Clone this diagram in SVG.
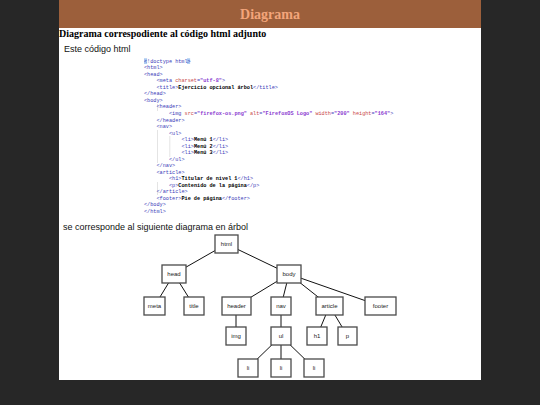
<svg xmlns="http://www.w3.org/2000/svg" width="540" height="405" viewBox="0 0 540 405">
<style>
.code{font-family:"Liberation Mono","Courier New",monospace;font-size:5.2px;}
.t{fill:#3a3ab8}
.a{fill:#c84848}
.v{fill:#8a3ad0;font-weight:bold}
.x{fill:#000;font-weight:bold}
.box{fill:#fff;stroke:#4a4a4a;stroke-width:1.3}
.lbl{font-family:"Liberation Sans",Arial,sans-serif;font-size:6px;fill:#222;text-anchor:middle}
.edge{stroke:#111;stroke-width:1}
.guide{stroke:#c8c8c8;stroke-width:0.5}
.body{font-family:"Liberation Sans",Arial,sans-serif;font-size:9px;fill:#111}
</style>
<rect x="0" y="0" width="540" height="405" fill="#272727"/>
<rect x="59" y="0" width="422" height="380" fill="#ffffff"/>
<rect x="59" y="0" width="422" height="28" fill="#9c5f3b"/>
<text x="270" y="19" text-anchor="middle" font-family="Liberation Serif,'Times New Roman',serif" font-weight="bold" font-size="14" fill="#f3a57a">Diagrama</text>
<text x="59" y="37" font-family="Liberation Serif,'Times New Roman',serif" font-weight="bold" font-size="10" fill="#000">Diagrama correspodiente al código html adjunto</text>
<text class="body" x="64" y="52">Este código html</text>

<g id="code">
<rect x="144" y="58.3" width="3.1" height="5.6" fill="#a8c8f0"/>
<rect x="187" y="58.3" width="3.1" height="5.6" fill="#a8c8f0"/>
<g class="guide">
<line x1="157.5" y1="104" x2="157.5" y2="111"/>
<line x1="157.5" y1="130" x2="157.5" y2="163"/>
<line x1="169.8" y1="136" x2="169.8" y2="157"/>
<line x1="157.5" y1="182" x2="157.5" y2="195"/>
</g>
<text class="code" x="144" y="62.8"><tspan class="t">&lt;!doctype html&gt;</tspan></text>
<text class="code" x="144" y="69.3"><tspan class="t">&lt;html&gt;</tspan></text>
<text class="code" x="144" y="75.8"><tspan class="t">&lt;head&gt;</tspan></text>
<text class="code" x="156.5" y="82.4"><tspan class="t">&lt;meta </tspan><tspan class="a">charset</tspan><tspan class="t">=</tspan><tspan class="v">"utf-8"</tspan><tspan class="t">&gt;</tspan></text>
<text class="code" x="156.5" y="88.9"><tspan class="t">&lt;title&gt;</tspan><tspan class="x">Ejercicio opcional árbol</tspan><tspan class="t">&lt;/title&gt;</tspan></text>
<text class="code" x="144" y="95.4"><tspan class="t">&lt;/head&gt;</tspan></text>
<text class="code" x="144" y="101.9"><tspan class="t">&lt;body&gt;</tspan></text>
<text class="code" x="156.5" y="108.4"><tspan class="t">&lt;header&gt;</tspan></text>
<text class="code" x="169" y="115"><tspan class="t">&lt;img </tspan><tspan class="a">src</tspan><tspan class="t">=</tspan><tspan class="v">"firefox-os.png"</tspan><tspan class="t"> </tspan><tspan class="a">alt</tspan><tspan class="t">=</tspan><tspan class="v">"FirefoxOS Logo"</tspan><tspan class="t"> </tspan><tspan class="a">width</tspan><tspan class="t">=</tspan><tspan class="v">"200"</tspan><tspan class="t"> </tspan><tspan class="a">height</tspan><tspan class="t">=</tspan><tspan class="v">"164"</tspan><tspan class="t">&gt;</tspan></text>
<text class="code" x="156.5" y="121.5"><tspan class="t">&lt;/header&gt;</tspan></text>
<text class="code" x="156.5" y="128"><tspan class="t">&lt;nav&gt;</tspan></text>
<text class="code" x="169" y="134.5"><tspan class="t">&lt;ul&gt;</tspan></text>
<text class="code" x="181.5" y="141"><tspan class="t">&lt;li&gt;</tspan><tspan class="x">Menú 1</tspan><tspan class="t">&lt;/li&gt;</tspan></text>
<text class="code" x="181.5" y="147.6"><tspan class="t">&lt;li&gt;</tspan><tspan class="x">Menú 2</tspan><tspan class="t">&lt;/li&gt;</tspan></text>
<text class="code" x="181.5" y="154.1"><tspan class="t">&lt;li&gt;</tspan><tspan class="x">Menú 3</tspan><tspan class="t">&lt;/li&gt;</tspan></text>
<text class="code" x="169" y="160.6"><tspan class="t">&lt;/ul&gt;</tspan></text>
<text class="code" x="156.5" y="167.1"><tspan class="t">&lt;/nav&gt;</tspan></text>
<text class="code" x="156.5" y="173.6"><tspan class="t">&lt;article&gt;</tspan></text>
<text class="code" x="169" y="180.2"><tspan class="t">&lt;h1&gt;</tspan><tspan class="x">Titular de nivel 1</tspan><tspan class="t">&lt;/h1&gt;</tspan></text>
<text class="code" x="169" y="186.7"><tspan class="t">&lt;p&gt;</tspan><tspan class="x">Contenido de la página</tspan><tspan class="t">&lt;/p&gt;</tspan></text>
<text class="code" x="156.5" y="193.2"><tspan class="t">&lt;/article&gt;</tspan></text>
<text class="code" x="156.5" y="199.7"><tspan class="t">&lt;footer&gt;</tspan><tspan class="x">Pie de página</tspan><tspan class="t">&lt;/footer&gt;</tspan></text>
<text class="code" x="144" y="206.2"><tspan class="t">&lt;/body&gt;</tspan></text>
<text class="code" x="144" y="212.8"><tspan class="t">&lt;/html&gt;</tspan></text>
</g>

<text class="body" x="63" y="230">se corresponde al siguiente diagrama en árbol</text>

<g id="connectors" class="edge">
<line x1="226.5" y1="244" x2="174" y2="274"/>
<line x1="226.5" y1="244" x2="289" y2="274"/>
<line x1="174" y1="274" x2="154.5" y2="306"/>
<line x1="174" y1="274" x2="194" y2="306"/>
<line x1="289" y1="274" x2="236.5" y2="306"/>
<line x1="289" y1="274" x2="281" y2="306"/>
<line x1="289" y1="274" x2="329.5" y2="306"/>
<line x1="289" y1="274" x2="380.5" y2="306"/>
<line x1="236" y1="306" x2="236" y2="336"/>
<line x1="281" y1="306" x2="281" y2="336"/>
<line x1="329.5" y1="306" x2="317" y2="336"/>
<line x1="329.5" y1="306" x2="347.5" y2="336"/>
<line x1="281" y1="336" x2="248" y2="368"/>
<line x1="281" y1="336" x2="281" y2="368"/>
<line x1="281" y1="336" x2="314" y2="368"/>
</g>

<g id="n-html"><rect class="box" x="215" y="235" width="23" height="18"/><text class="lbl" x="226.5" y="246">html</text></g>
<g id="n-head"><rect class="box" x="162" y="265" width="24" height="18"/><text class="lbl" x="174" y="276">head</text></g>
<g id="n-body"><rect class="box" x="277" y="265" width="24" height="18"/><text class="lbl" x="289" y="276">body</text></g>
<g id="n-meta"><rect class="box" x="144" y="297" width="21" height="18"/><text class="lbl" x="154.5" y="308">meta</text></g>
<g id="n-title"><rect class="box" x="184" y="297" width="20" height="18"/><text class="lbl" x="194" y="308">title</text></g>
<g id="n-header"><rect class="box" x="222" y="297" width="29" height="18"/><text class="lbl" x="236.5" y="308">header</text></g>
<g id="n-nav"><rect class="box" x="271" y="297" width="20" height="18"/><text class="lbl" x="281" y="308">nav</text></g>
<g id="n-article"><rect class="box" x="316" y="297" width="27" height="18"/><text class="lbl" x="329.5" y="308">article</text></g>
<g id="n-footer"><rect class="box" x="365" y="297" width="31" height="18"/><text class="lbl" x="380.5" y="308">footer</text></g>
<g id="n-img"><rect class="box" x="226" y="327" width="20" height="18"/><text class="lbl" x="236" y="338">img</text></g>
<g id="n-ul"><rect class="box" x="271" y="327" width="20" height="18"/><text class="lbl" x="281" y="338">ul</text></g>
<g id="n-h1"><rect class="box" x="307" y="327" width="20" height="18"/><text class="lbl" x="317" y="338">h1</text></g>
<g id="n-p"><rect class="box" x="338" y="327" width="19" height="18"/><text class="lbl" x="347.5" y="338">p</text></g>
<g id="n-li1"><rect class="box" x="238" y="359" width="20" height="18"/><text class="lbl" x="248" y="370">li</text></g>
<g id="n-li2"><rect class="box" x="271" y="359" width="20" height="18"/><text class="lbl" x="281" y="370">li</text></g>
<g id="n-li3"><rect class="box" x="304" y="359" width="20" height="18"/><text class="lbl" x="314" y="370">li</text></g>
</svg>
